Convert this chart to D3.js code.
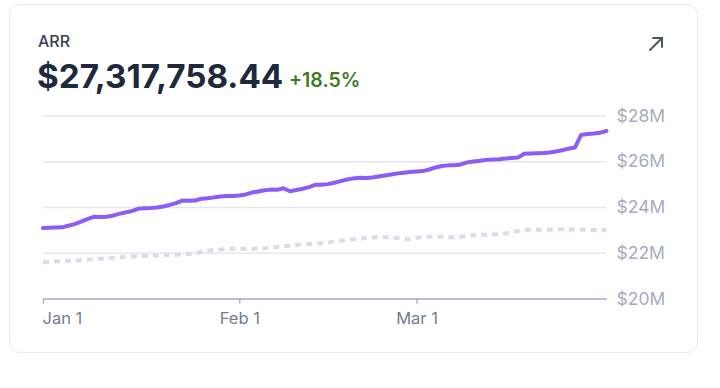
<!DOCTYPE html>
<html>
<head>
<meta charset="utf-8">
<script src="https://cdn.jsdelivr.net/npm/d3@7"></script>
<style>
  html, body { margin: 0; padding: 0; background: #fff; }
  body { width: 720px; height: 388px; overflow: hidden; font-family: Inter, "Noto Sans", sans-serif; }
</style>
</head>
<body>
<script>
'use strict';

// chart data (values in $M, one per day)
var START_DATE = '2023-01-01';
var currentArr = [
    23.08, 23.09, 23.10, 23.11, 23.18, 23.25, 23.36, 23.47, 23.57, 23.56,
    23.57, 23.62, 23.70, 23.76, 23.82, 23.92, 23.95, 23.96, 23.98, 24.02,
    24.09, 24.17, 24.28, 24.27, 24.28, 24.36, 24.38, 24.42, 24.46, 24.48,
    24.48, 24.50, 24.55, 24.63, 24.68, 24.73, 24.76, 24.75, 24.82, 24.69,
    24.74, 24.80, 24.87, 24.97, 24.97, 25.00, 25.06, 25.13, 25.20, 25.25,
    25.28, 25.27, 25.29, 25.33, 25.38, 25.42, 25.47, 25.50, 25.53, 25.55,
    25.57, 25.64, 25.73, 25.79, 25.82, 25.83, 25.86, 25.95, 25.99, 26.02,
    26.06, 26.08, 26.09, 26.12, 26.14, 26.16, 26.33, 26.34, 26.35, 26.36,
    26.38, 26.43, 26.48, 26.55, 26.60, 27.15, 27.19, 27.21, 27.25, 27.32
];
var previousArr = [
    21.59, 21.60, 21.62, 21.63, 21.65, 21.66, 21.68, 21.70, 21.72, 21.74,
    21.76, 21.78, 21.80, 21.82, 21.84, 21.85, 21.86, 21.87, 21.88, 21.89,
    21.90, 21.91, 21.93, 21.95, 21.97, 22.03, 22.09, 22.12, 22.14, 22.16,
    22.17, 22.17, 22.18, 22.18, 22.19, 22.20, 22.22, 22.25, 22.28, 22.31,
    22.34, 22.36, 22.38, 22.40, 22.42, 22.44, 22.50, 22.53, 22.56, 22.59,
    22.61, 22.64, 22.67, 22.69, 22.68, 22.67, 22.64, 22.61, 22.59, 22.65,
    22.70, 22.70, 22.70, 22.70, 22.69, 22.67, 22.70, 22.74, 22.77, 22.78,
    22.79, 22.80, 22.80, 22.84, 22.89, 22.95, 22.99, 23.02, 23.01, 22.99,
    23.01, 23.03, 23.03, 23.02, 23.02, 23.01, 23.00, 23.00, 22.99, 22.99
];
var yTicks = [20, 22, 24, 26, 28];
var xTicks = ['2023-01-01', '2023-02-01', '2023-03-01'];
var title = 'ARR';
var headline = '$27,317,758.44';
var change = '+18.5%';

// sizes
var width = 720;
var height = 388;
var plot = {left: 43, right: 606.5, top: 115.5, bottom: 298.5};

var parseDate = d3.timeParse('%Y-%m-%d');
var start = parseDate(START_DATE);
var dates = currentArr.map(function(d, i) { return d3.timeDay.offset(start, i); });

var svg = d3.select('body').append('svg')
    .attr('width', width)
    .attr('height', height);

// card
svg.append('rect')
    .attr('x', 9.5).attr('y', 4.5)
    .attr('width', 688).attr('height', 348)
    .attr('rx', 10)
    .attr('fill', '#fff')
    .attr('stroke', '#e8eaef');

// header
svg.append('text')
    .attr('x', 38).attr('y', 47)
    .attr('font-size', 16).attr('font-weight', 500)
    .attr('fill', '#374151')
    .text(title);

svg.append('text')
    .attr('x', 37).attr('y', 88)
    .attr('font-size', 33.2).attr('font-weight', 700)
    .attr('fill', '#1e293b')
    .text(headline);

svg.append('text')
    .attr('x', 289).attr('y', 87)
    .attr('font-size', 19.5).attr('font-weight', 600)
    .attr('fill', '#3d7b22')
    .text(change);

// arrow icon top right
var icon = svg.append('g')
    .attr('transform', 'translate(649,37)')
    .attr('stroke', '#4b5563').attr('stroke-width', 2)
    .attr('fill', 'none').attr('stroke-linecap', 'round').attr('stroke-linejoin', 'round');
icon.append('path').attr('d', 'M1,13 L13,1');
icon.append('path').attr('d', 'M4,1 L13,1 L13,10');

// scales
var x = d3.scaleTime()
    .domain([dates[0], dates[dates.length - 1]])
    .range([plot.left, plot.right]);

var y = d3.scaleLinear()
    .domain([20, 28])
    .range([plot.bottom, plot.top]);

// grid + y labels
var yAxis = svg.append('g')
    .attr('class', 'axis axis--y')
    .attr('transform', 'translate(' + plot.right + ',0)')
    .call(d3.axisRight(y)
        .tickValues(yTicks)
        .tickSize(-(plot.right - plot.left))
        .tickPadding(10)
        .tickFormat(function(d) { return '$' + d + 'M'; }));
yAxis.select('.domain').remove();
yAxis.selectAll('line').attr('stroke', '#e3e7ef').attr('stroke-width', 1.5);
yAxis.selectAll('text')
    .attr('fill', '#a6adbd')
    .attr('font-size', 17.5)
    .attr('font-family', 'Inter, sans-serif');

// x axis
var xAxis = svg.append('g')
    .attr('class', 'axis axis--x')
    .attr('transform', 'translate(0,' + plot.bottom + ')')
    .call(d3.axisBottom(x)
        .tickValues(xTicks.map(parseDate))
        .tickSize(5)
        .tickSizeOuter(0)
        .tickPadding(9)
        .tickFormat(d3.timeFormat('%b %-d')));
xAxis.select('.domain').attr('stroke', '#a8b0c1').attr('stroke-width', 1.5);
xAxis.selectAll('line').attr('stroke', '#a8b0c1').attr('stroke-width', 1.5);
xAxis.selectAll('text')
    .attr('fill', '#737c90')
    .attr('font-size', 16.5)
    .attr('font-family', 'Inter, sans-serif');
xAxis.select('.tick text').attr('text-anchor', 'start').attr('x', -1);

// lines
var line = function(values) {
    return d3.line()
        .x(function(d, i) { return x(dates[i]); })
        .y(function(d) { return y(d); })(values);
};

svg.append('path')
    .attr('d', line(previousArr))
    .attr('fill', 'none')
    .attr('stroke', '#d8dde7')
    .attr('stroke-width', 4)
    .attr('stroke-dasharray', '6,5');

svg.append('path')
    .attr('d', line(currentArr))
    .attr('fill', 'none')
    .attr('stroke', '#8b5cf6')
    .attr('stroke-width', 4)
    .attr('stroke-linejoin', 'round')
    .attr('stroke-linecap', 'round');
</script>
</body>
</html>
